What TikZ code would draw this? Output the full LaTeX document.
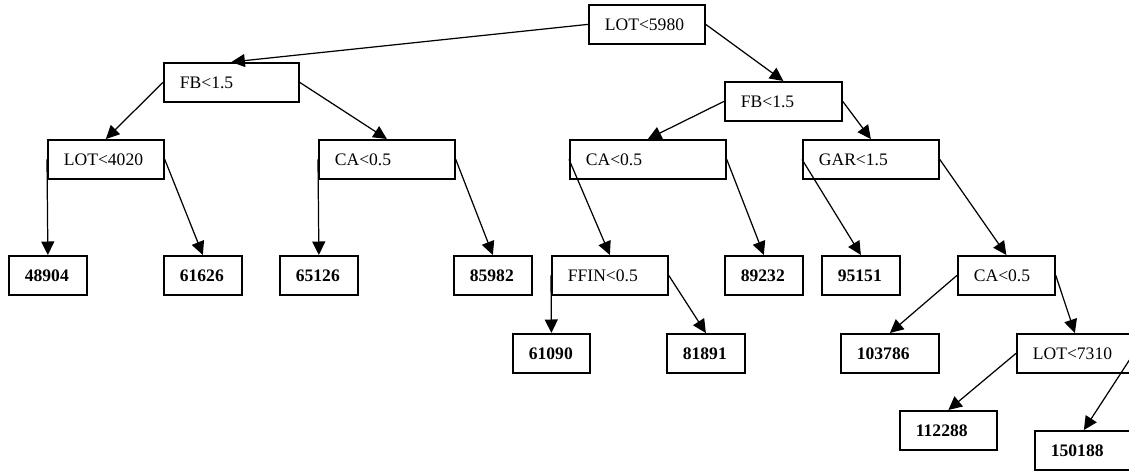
\documentclass[tikz,border=0pt]{standalone}
\usepackage{fontspec}
\setmainfont{Liberation Serif}
\usetikzlibrary{arrows.meta}
\tikzset{
  cond/.style={draw,line width=1pt,anchor=north west,inner xsep=0.32cm,inner ysep=0pt,
    minimum height=0.78cm,text width=#1,align=left},
  leaf/.style={cond=#1,font=\bfseries},
  arr/.style={line width=0.7pt,-{Triangle[length=0.27cm,width=0.26cm]}}
}
\begin{document}
\begin{tikzpicture}[x=0.02cm,y=-0.02cm]
\useasboundingbox (0,0) rectangle (1129,470);
\clip (0,0) rectangle (1129,470);
% splits
\node[cond=1.68cm] (root) at (588,4) {LOT<5980};
\node[cond=2.06cm] (fbL) at (163,62) {FB<1.5};
\node[cond=1.70cm] (fbR) at (724,81) {FB<1.5};
\node[cond=1.68cm] (lotA) at (47,139) {LOT<4020};
\node[cond=2.08cm] (caL) at (318,139) {CA<0.5};
\node[cond=2.48cm] (caM) at (569,139) {CA<0.5};
\node[cond=2.08cm] (gar) at (802,139) {GAR<1.5};
\node[cond=1.68cm] (ffin) at (551,255) {FFIN<0.5};
\node[cond=1.30cm] (caR) at (957,255) {CA<0.5};
\node[cond=1.68cm] (lotB) at (1016,333) {LOT<7310};
% leaves
\foreach \v/\x/\y/\w in {48904/8/255/0.92cm,61626/163/255/0.92cm,65126/279/255/0.92cm,
  85982/453/255/0.92cm,89232/724/255/0.92cm,95151/821/255/0.92cm,61090/512/333/0.90cm,
  81891/666/333/0.92cm,103786/840/333/1.32cm,112288/899/410/1.30cm,150188/1034/430/1.32cm}
  \node[leaf=\w] (n\v) at (\x,\y) {\v};
% branches
\foreach \a/\s/\b in {root/west/fbL,root/east/fbR,fbL/west/lotA,fbL/east/caL,
  fbR/west/caM,fbR/east/gar,lotA/west/n48904,lotA/east/n61626,caL/west/n65126,
  caL/east/n85982,caM/west/ffin,caM/east/n89232,gar/west/n95151,gar/east/caR,
  ffin/west/n61090,ffin/east/n81891,caR/west/n103786,caR/east/lotB,
  lotB/west/n112288,lotB/east/n150188}
  \draw[arr] (\a.\s) -- (\b.north);
\end{tikzpicture}
\end{document}
